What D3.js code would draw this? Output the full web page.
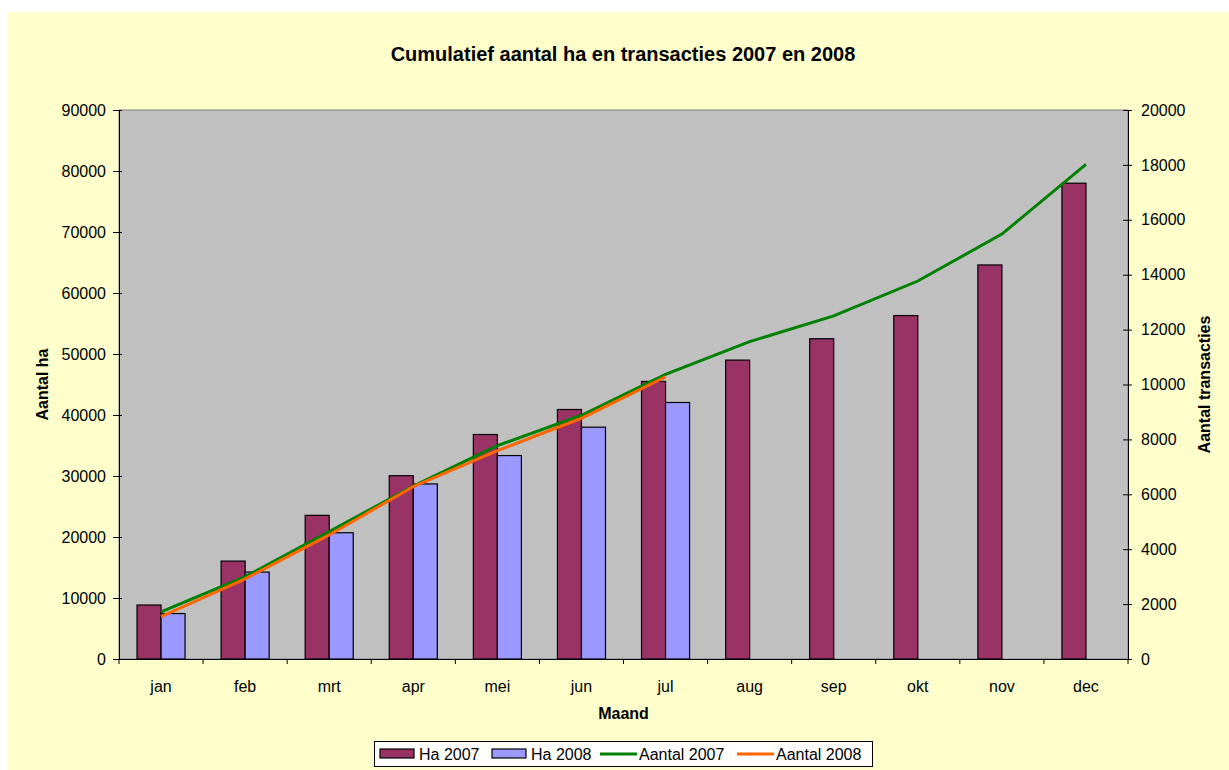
<!DOCTYPE html>
<html lang="nl">
<head>
  <meta charset="UTF-8">
  <title>Cumulatief aantal ha en transacties</title>
  <script src="https://d3js.org/d3.v7.min.js"></script>
  <style>
    body { margin: 0; background: #fff; }
    svg { display: block; font-family: "Liberation Sans", Arial, sans-serif; }
  </style>
</head>
<body>
  <svg width="1229" height="770"></svg>

  <script>
    const months = ['jan', 'feb', 'mrt', 'apr', 'mei', 'jun', 'jul', 'aug', 'sep', 'okt', 'nov', 'dec'];
    const ha2007 = [8850, 16050, 23550, 30050, 36800, 40900, 45500, 49000, 52500, 56300, 64600, 78000];
    const ha2008 = [7450, 14250, 20700, 28700, 33350, 38000, 42050];
    const aantal2007 = [1720, 3000, 4640, 6300, 7770, 8880, 10370, 11560, 12500, 13770, 15480, 18020];
    const aantal2008 = [1540, 2920, 4520, 6280, 7590, 8770, 10280];
    const leftTicks = [0, 10000, 20000, 30000, 40000, 50000, 60000, 70000, 80000, 90000];
    const rightTicks = [0, 2000, 4000, 6000, 8000, 10000, 12000, 14000, 16000, 18000, 20000];

    const plot = {left: 119, right: 1128, top: 110, bottom: 659};
    const font = 16;

    const svg = d3.select('svg');

    // chart area
    svg.append('rect')
      .attr('x', 8).attr('y', 12)
      .attr('width', 1221).attr('height', 758)
      .attr('fill', '#ffffcc');

    svg.append('rect')
      .attr('x', plot.left).attr('y', plot.top)
      .attr('width', plot.right - plot.left).attr('height', plot.bottom - plot.top)
      .attr('fill', '#c0c0c0')
      .attr('stroke', '#808080');

    const x0 = d3.scaleBand()
      .domain(months)
      .range([plot.left, plot.right])
      .padding(0);

    const x1 = d3.scaleBand()
      .domain(['2007', '2008'])
      .range([0, x0.bandwidth()])
      .paddingInner(0)
      .paddingOuter(0.75);

    const yLeft = d3.scaleLinear()
      .domain([0, 90000])
      .range([plot.bottom, plot.top]);

    const yRight = d3.scaleLinear()
      .domain([0, 20000])
      .range([plot.bottom, plot.top]);

    // bars
    const barSeries = [
      {key: '2007', values: ha2007, color: '#993366'},
      {key: '2008', values: ha2008, color: '#9999ff'},
    ];

    barSeries.forEach(s => {
      svg.append('g')
        .selectAll('rect')
        .data(s.values)
        .join('rect')
        .attr('x', (d, i) => x0(months[i]) + x1(s.key))
        .attr('y', d => yLeft(d))
        .attr('width', x1.bandwidth())
        .attr('height', d => yLeft(0) - yLeft(d))
        .attr('fill', s.color)
        .attr('stroke', '#000')
        .attr('stroke-width', 1.2);
    });

    // lines
    const line = d3.line()
      .x((d, i) => x0(months[i]) + x0.bandwidth() / 2)
      .y(d => yRight(d));

    svg.append('path')
      .attr('d', line(aantal2007))
      .attr('fill', 'none')
      .attr('stroke', '#008000')
      .attr('stroke-width', 3);

    svg.append('path')
      .attr('d', line(aantal2008))
      .attr('fill', 'none')
      .attr('stroke', '#ff6600')
      .attr('stroke-width', 3);

    // axes
    const leftAxis = d3.axisLeft(yLeft)
      .tickValues(leftTicks)
      .tickFormat(d3.format('d'))
      .tickSizeInner(6)
      .tickSizeOuter(0)
      .tickPadding(7);

    const gl = svg.append('g')
      .attr('transform', `translate(${plot.left}, 0)`)
      .call(leftAxis);

    const rightAxis = d3.axisRight(yRight)
      .tickValues(rightTicks)
      .tickFormat(d3.format('d'))
      .tickSizeInner(4)
      .tickSizeOuter(0)
      .tickPadding(9);

    const gr = svg.append('g')
      .attr('transform', `translate(${plot.right}, 0)`)
      .call(rightAxis);

    // month labels, ticks sit on the category boundaries
    const bottomAxis = d3.axisBottom(x0).tickSize(0).tickPadding(22);
    const gb = svg.append('g')
      .attr('transform', `translate(0, ${plot.bottom})`)
      .call(bottomAxis);

    svg.append('g')
      .selectAll('line')
      .data(months.concat(['end']))
      .join('line')
      .attr('x1', (d, i) => plot.left + i * x0.step())
      .attr('x2', (d, i) => plot.left + i * x0.step())
      .attr('y1', plot.bottom)
      .attr('y2', plot.bottom + 5)
      .attr('stroke', '#000');

    [gl, gr, gb].forEach(g => {
      g.selectAll('text')
        .attr('font-size', font)
        .attr('font-family', '"Liberation Sans", Arial, sans-serif')
        .attr('fill', '#000');
      g.selectAll('line').attr('stroke', '#000');
      g.select('.domain').attr('stroke', '#000');
    });

    // ticks cross the axis a bit
    gl.selectAll('.tick line').attr('x2', -6).attr('x1', 3);
    gr.selectAll('.tick line').attr('x1', -5).attr('x2', 4);

    // titles
    svg.append('text')
      .attr('x', 623)
      .attr('y', 61)
      .attr('text-anchor', 'middle')
      .attr('font-size', 20)
      .attr('font-weight', 'bold')
      .text('Cumulatief aantal ha en transacties 2007 en 2008');

    svg.append('text')
      .attr('x', (plot.left + plot.right) / 2)
      .attr('y', 719)
      .attr('text-anchor', 'middle')
      .attr('font-size', font)
      .attr('font-weight', 'bold')
      .text('Maand');

    svg.append('text')
      .attr('transform', `translate(48, ${(plot.top + plot.bottom) / 2}) rotate(-90)`)
      .attr('text-anchor', 'middle')
      .attr('font-size', font)
      .attr('font-weight', 'bold')
      .text('Aantal ha');

    svg.append('text')
      .attr('transform', `translate(1210, ${(plot.top + plot.bottom) / 2}) rotate(-90)`)
      .attr('text-anchor', 'middle')
      .attr('font-size', font)
      .attr('font-weight', 'bold')
      .text('Aantal transacties');

    // legend
    const legendItems = [
      {label: 'Ha 2007', color: '#993366', type: 'bar', x: 380},
      {label: 'Ha 2008', color: '#9999ff', type: 'bar', x: 492},
      {label: 'Aantal 2007', color: '#008000', type: 'line', x: 600},
      {label: 'Aantal 2008', color: '#ff6600', type: 'line', x: 737},
    ];

    const legend = svg.append('g');
    legend.append('rect')
      .attr('x', 374.5).attr('y', 741.5)
      .attr('width', 498).attr('height', 25)
      .attr('fill', '#fff')
      .attr('stroke', '#000');

    legendItems.forEach(it => {
      if (it.type === 'bar') {
        legend.append('rect')
          .attr('x', it.x).attr('y', 749)
          .attr('width', 34).attr('height', 9)
          .attr('fill', it.color)
          .attr('stroke', '#000')
          .attr('stroke-width', 1.2);
      } else {
        legend.append('line')
          .attr('x1', it.x).attr('x2', it.x + 37)
          .attr('y1', 754).attr('y2', 754)
          .attr('stroke', it.color)
          .attr('stroke-width', 3);
      }
      legend.append('text')
        .attr('x', it.x + 39)
        .attr('y', 760)
        .attr('font-size', font)
        .text(it.label);
    });
  </script>
</body>
</html>
